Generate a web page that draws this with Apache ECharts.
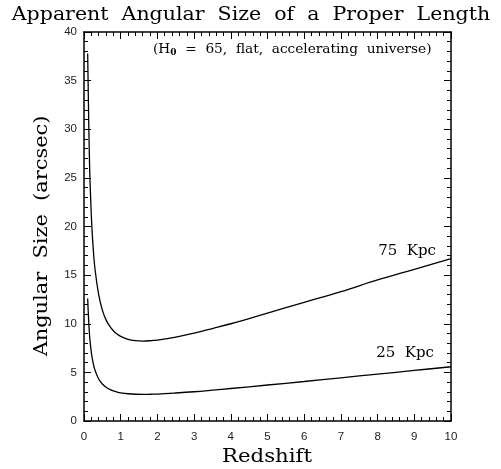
<!DOCTYPE html>
<html>
<head>
<meta charset="utf-8">
<script src="https://cdn.jsdelivr.net/npm/echarts@6/dist/echarts.min.js"></script>
<style>
  html, body { margin: 0; padding: 0; background: #fff; }
  #chart { width: 501px; height: 469px; }
</style>
</head>
<body>
<div id="chart"></div>
<script>
// redshift samples
var redshift = [0.1, 0.15, 0.2, 0.25, 0.3, 0.4, 0.5, 0.6, 0.7, 0.8, 0.9, 1.0, 1.2, 1.4, 1.6, 1.8, 2.0, 2.5, 3.0, 3.5, 4, 5, 6, 7, 8, 9, 10]
// angular size (arcsec)
var size75 = [37.8, 26.6, 21.1, 17.8, 15.6, 13.0, 11.4, 10.4, 9.75, 9.28, 8.94, 8.70, 8.40, 8.26, 8.22, 8.25, 8.32, 8.63, 9.04, 9.51, 10.0, 11.1, 12.2, 13.3, 14.5, 15.6, 16.7]
var size25 = [12.6, 8.87, 7.04, 5.94, 5.21, 4.32, 3.80, 3.47, 3.25, 3.09, 2.98, 2.90, 2.80, 2.75, 2.74, 2.75, 2.77, 2.88, 3.01, 3.17, 3.34, 3.70, 4.06, 4.44, 4.82, 5.20, 5.58]

function pairs(xs, ys) {
  return xs.map(function (x, i) { return [x, ys[i]] })
}

var chart = echarts.init(document.getElementById('chart'))

var serif = 'DejaVu Serif'
var tickLabel = { color: '#222', fontSize: 11.5, fontFamily: 'Liberation Sans' }
var axisLine = { onZero: false, lineStyle: { color: '#000', width: 1.5 } }
var axisTick = { inside: true, length: 7, lineStyle: { color: '#000' } }
var minorTick = { show: true, splitNumber: 5, length: 4, lineStyle: { color: '#000' } }

// wide-spaced serif text, like the plotting package's stroke font
function label(text, x, y, size, sx, rot) {
  return {
    type: 'text', x: x, y: y, scaleX: sx, rotation: rot || 0,
    style: { text: text, x: 0, y: 0, align: 'center', verticalAlign: 'middle', fontFamily: serif, fontSize: size, fill: '#000' }
  }
}

var option = {
  animation: false,
  grid: { left: 84, right: 50, top: 32, bottom: 48 },
  xAxis: [
    {
      type: 'value', min: 0, max: 10, interval: 1,
      axisLine: axisLine, axisTick: axisTick, minorTick: minorTick,
      axisLabel: Object.assign({ margin: 10 }, tickLabel),
      splitLine: { show: false }
    },
    {
      type: 'value', min: 0, max: 10, interval: 1, position: 'top',
      axisLine: axisLine, axisTick: axisTick, minorTick: minorTick,
      axisLabel: { show: false },
      splitLine: { show: false }
    }
  ],
  yAxis: [
    {
      type: 'value', min: 0, max: 40, interval: 5,
      axisLine: axisLine, axisTick: axisTick, minorTick: minorTick,
      axisLabel: Object.assign({ margin: 7 }, tickLabel),
      splitLine: { show: false }
    },
    {
      type: 'value', min: 0, max: 40, interval: 5, position: 'right',
      axisLine: axisLine, axisTick: axisTick, minorTick: minorTick,
      axisLabel: { show: false },
      splitLine: { show: false }
    }
  ],
  series: [
    {
      name: '75 Kpc', type: 'line', smooth: 0.4, showSymbol: false,
      lineStyle: { color: '#000', width: 1.3 },
      data: pairs(redshift, size75)
    },
    {
      name: '25 Kpc', type: 'line', smooth: 0.4, showSymbol: false,
      lineStyle: { color: '#000', width: 1.3 },
      data: pairs(redshift, size25)
    }
  ],
  graphic: [
    label('Apparent  Angular  Size  of  a  Proper  Length', 251, 15, 19, 1.08),
    label('Redshift', 267, 457, 19, 1.12),
    label('Angular  Size  (arcsec)', 42, 236, 19, 1.1, Math.PI / 2),
    {
      type: 'text', x: 153, y: 49,
      style: {
        text: '(H{s|0}  =  65,  flat,  accelerating  universe)',
        x: 0, y: 0, verticalAlign: 'middle',
        fontFamily: serif, fontSize: 13.7, fill: '#000',
        rich: { s: { fontFamily: serif, fontSize: 9, fontWeight: 'bold', padding: [7, 0, 0, 0] } }
      }
    },
    {
      type: 'text', x: 436, y: 251,
      style: { text: '75  Kpc', x: 0, y: 0, align: 'right', verticalAlign: 'middle', fontFamily: serif, fontSize: 15, fill: '#000' }
    },
    {
      type: 'text', x: 434, y: 353,
      style: { text: '25  Kpc', x: 0, y: 0, align: 'right', verticalAlign: 'middle', fontFamily: serif, fontSize: 15, fill: '#000' }
    }
  ]
}

chart.setOption(option)
</script>
</body>
</html>
